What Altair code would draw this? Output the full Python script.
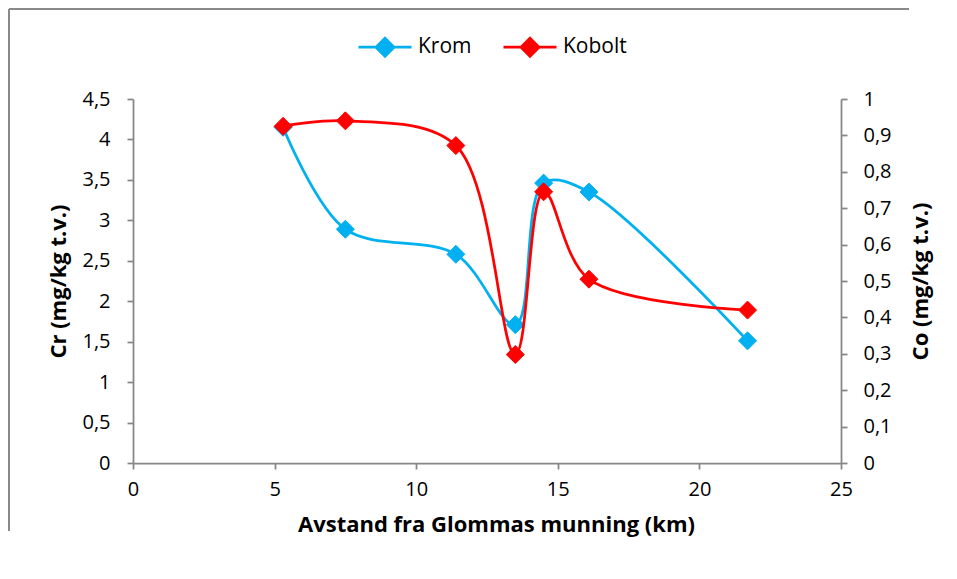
import altair as alt
import pandas as pd

# ---- data ----
km = [5.3, 7.5, 11.4, 13.5, 14.5, 16.1, 21.7]
krom = [4.15, 2.89, 2.58, 1.71, 3.46, 3.35, 1.51]
kobolt = [0.925, 0.94, 0.872, 0.298, 0.745, 0.505, 0.42]
series_names = ["Krom", "Kobolt"]
series_colors = ["#00B0F0", "#FF0000"]
x_ticks = [0, 5, 10, 15, 20, 25]
cr_ticks = [0, 0.5, 1, 1.5, 2, 2.5, 3, 3.5, 4, 4.5]
co_ticks = [0, 0.1, 0.2, 0.3, 0.4, 0.5, 0.6, 0.7, 0.8, 0.9, 1.0]

df_cr = pd.DataFrame({"km": km, "value": krom, "Serie": series_names[0]})
df_co = pd.DataFrame({"km": km, "value": kobolt, "Serie": series_names[1]})

FONT = "Open Sans"
AX = "#868686"
W, H = 708, 364
PAD = {"left": 125, "top": 91, "right": 108, "bottom": 108}
comma = "replace(format(datum.value, '.1~f'), '.', ',')"

color_scale = alt.Scale(domain=series_names, range=series_colors)
legend = alt.Legend(
    title=None, orient="none", legendX=224, legendY=-80, direction="horizontal",
    symbolType="M-1,0H1M0,-0.34L0.34,0L0,0.34L-0.34,0Z", symbolSize=2809,
    symbolStrokeWidth=2.75, symbolOpacity=1,
    labelFont=FONT, labelFontSize=21, labelColor="black", labelOffset=5,
    columnPadding=26, padding=0,
)

axis_common = dict(
    grid=False, domainColor=AX, domainWidth=1.75, tickColor=AX, tickWidth=1.75,
    tickSize=6, labelFont=FONT, labelFontSize=20, labelColor="black",
    titleFont=FONT, titleFontSize=22, titleFontWeight="bold", titleColor="black",
    labelFlush=False,
)

x_axis = alt.Axis(values=x_ticks, title="Avstand fra Glommas munning (km)",
                  labelPadding=10, titleX=363, titleY=68, titleBaseline="alphabetic",
                  titleAlign="center", **axis_common)
x_enc = alt.X("km:Q", scale=alt.Scale(domain=[0, 25], nice=False, zero=False), axis=x_axis)

y_cr = alt.Y("value:Q", scale=alt.Scale(domain=[0, 4.5], nice=False),
             axis=alt.Axis(orient="left", values=cr_ticks, labelExpr=comma,
                           title="Cr (mg/kg t.v.)", titleAngle=270, titleX=-68, titleY=H / 2,
                           titleBaseline="alphabetic", titleAlign="center",
                           labelPadding=17, **axis_common))
y_co = alt.Y("value:Q", scale=alt.Scale(domain=[0, 1], nice=False),
             axis=alt.Axis(orient="right", values=co_ticks, labelExpr=comma,
                           title="Co (mg/kg t.v.)", titleAngle=270, titleX=86, titleY=H / 2,
                           titleBaseline="alphabetic", titleAlign="center",
                           labelPadding=16, **axis_common))

stroke_enc = alt.Stroke("Serie:N", scale=color_scale, legend=legend)
fill_enc = alt.Fill("Serie:N", scale=color_scale, legend=legend)


def series_layer(df, y_enc):
    base = alt.Chart(df)
    line = base.mark_line(interpolate="catmull-rom", strokeWidth=2.75).encode(
        x=x_enc, y=y_enc, stroke=stroke_enc)
    pts = base.mark_point(shape="diamond", filled=True, size=324, opacity=1,
                          strokeWidth=1).encode(
        x=x_enc, y=y_enc, fill=fill_enc, stroke=stroke_enc)
    return alt.layer(line, pts)


krom_layer = series_layer(df_cr, y_cr)
kobolt_layer = series_layer(df_co, y_co)

# outer chart frame: top and left edges (the others fall outside the picture)
x_left = -PAD["left"] + 1
y_top = -PAD["top"] + 1
x_right = W + PAD["right"] - 40
y_bottom = H + PAD["bottom"] - 40
dummy = pd.DataFrame({"b": [0]})
border_left = alt.Chart(dummy).mark_rule(color="#898989", strokeWidth=2).encode(
    x=alt.value(x_left), y=alt.value(y_top), y2=alt.value(y_bottom))
border_top = alt.Chart(dummy).mark_rule(color="#898989", strokeWidth=2).encode(
    x=alt.value(x_left), x2=alt.value(x_right), y=alt.value(y_top))

chart = alt.layer(border_left, border_top, krom_layer, kobolt_layer).resolve_scale(
    y="independent"
).properties(
    width=W, height=H,
    padding=PAD,
    autosize=alt.AutoSizeParams(type="none"),
).configure_view(stroke=None)

chart.save("out.html", embed_options={"renderer": "svg", "actions": False})
